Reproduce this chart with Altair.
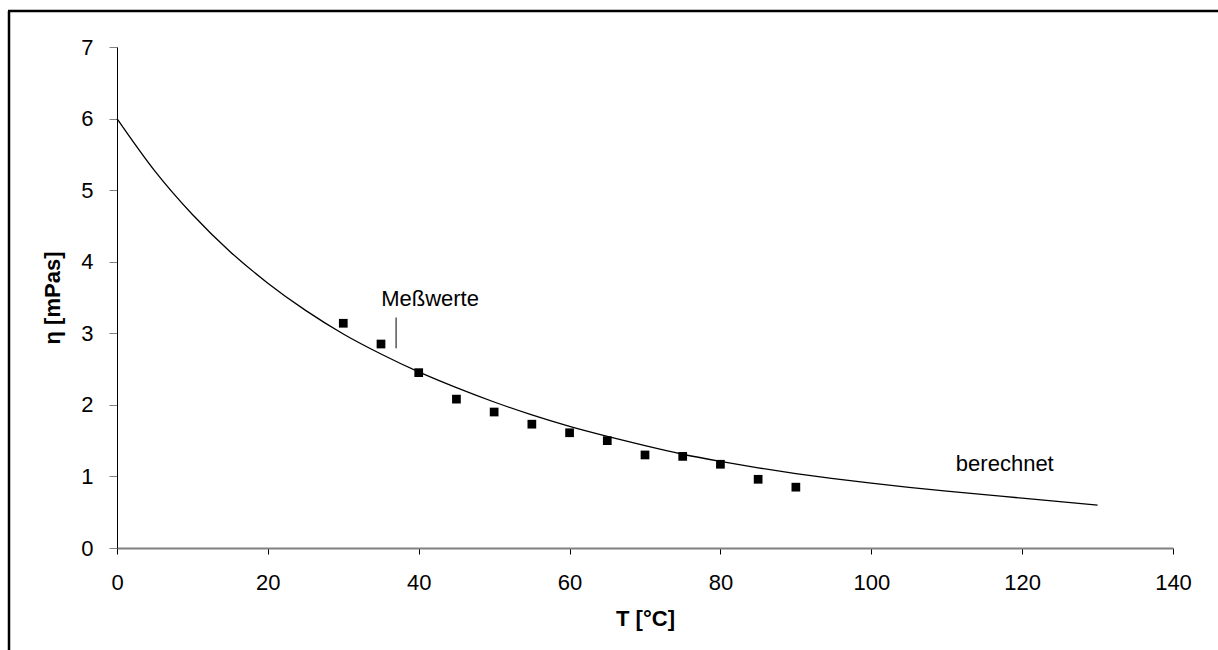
import altair as alt
import pandas as pd

# measured values (Meßwerte)
meas_T = [30, 35, 40, 45, 50, 55, 60, 65, 70, 75, 80, 85, 90]
meas_eta = [3.14, 2.85, 2.45, 2.08, 1.90, 1.73, 1.61, 1.50, 1.30, 1.28, 1.17, 0.96, 0.85]

# calculated curve (berechnet)
calc_T = [0, 5, 10, 15, 20, 25, 30, 35, 40, 45, 50, 55, 60, 65, 70, 75, 80, 85, 90,
          95, 100, 105, 110, 115, 120, 125, 130]
calc_eta = [6.00, 5.27, 4.66, 4.14, 3.70, 3.32, 2.99, 2.71, 2.46, 2.24, 2.04, 1.86,
            1.70, 1.56, 1.43, 1.31, 1.21, 1.12, 1.04, 0.97, 0.905, 0.848, 0.795,
            0.745, 0.697, 0.648, 0.60]

x_ticks = [0, 20, 40, 60, 80, 100, 120, 140]
y_ticks = [0, 1, 2, 3, 4, 5, 6, 7]

label_text = ["Meßwerte", "berechnet"]
label_T = [41.5, 117.7]
label_eta = [3.48, 1.17]

leader_T = [37.0]
leader_top = [3.22]
leader_bottom = [2.79]

FONT = "Liberation Sans"
FS = 22
W, H = 1056, 501

df_meas = pd.DataFrame({"T": meas_T, "eta": meas_eta})
df_calc = pd.DataFrame({"T": calc_T, "eta": calc_eta})
df_lab = pd.DataFrame({"T": label_T, "eta": label_eta, "text": label_text})
df_lead = pd.DataFrame({"T": leader_T, "y1": leader_top, "y2": leader_bottom})

xscale = alt.Scale(domain=[0, 140], nice=False, zero=False)
yscale = alt.Scale(domain=[0, 7], nice=False, zero=False)

xaxis = alt.Axis(values=x_ticks, format="d", title="T [°C]", grid=False,
                 domainColor="#808080", domainWidth=2, tickColor="#000000",
                 tickSize=6, labelPadding=18, labelFontSize=FS, labelFont=FONT,
                 labelColor="#000000", labelFlush=False,
                 titleFont=FONT, titleFontSize=FS, titleFontWeight="bold",
                 titleColor="#000000", titleY=70, titleBaseline="middle")
yaxis = alt.Axis(values=y_ticks, format="d", title="η [mPas]", grid=False,
                 domainColor="#000000", domainWidth=1, tickColor="#808080",
                 tickSize=8, labelPadding=16, labelFontSize=FS, labelFont=FONT,
                 labelColor="#000000", labelFlush=False,
                 titleFont=FONT, titleFontSize=FS, titleFontWeight="bold",
                 titleColor="#000000", titleX=-65, titleY=H / 2,
                 titleAngle=270, titleBaseline="middle", titleAlign="center")

line = alt.Chart(df_calc).mark_line(color="#000000", strokeWidth=1.3,
                                    interpolate="monotone").encode(
    x=alt.X("T:Q", scale=xscale, axis=xaxis),
    y=alt.Y("eta:Q", scale=yscale, axis=yaxis),
)

points = alt.Chart(df_meas).mark_square(color="#000000", size=76, opacity=1,
                                        filled=True).encode(
    x=alt.X("T:Q", scale=xscale),
    y=alt.Y("eta:Q", scale=yscale),
)

labels = alt.Chart(df_lab).mark_text(font=FONT, fontSize=FS, color="#000000",
                                     align="center", baseline="middle").encode(
    x=alt.X("T:Q", scale=xscale),
    y=alt.Y("eta:Q", scale=yscale),
    text="text:N",
)

leader = alt.Chart(df_lead).mark_rule(color="#000000", strokeWidth=1).encode(
    x=alt.X("T:Q", scale=xscale),
    y=alt.Y("y1:Q", scale=yscale),
    y2="y2:Q",
)

# outer frame (left and top edges visible)
frame_left = alt.Chart().mark_rule(color="#000000", strokeWidth=2.5).encode(
    x=alt.value(-108), y=alt.value(-36), y2=alt.value(H + 110))
frame_top = alt.Chart().mark_rule(color="#000000", strokeWidth=2.5).encode(
    x=alt.value(-109), x2=alt.value(W + 110), y=alt.value(-36))

chart = alt.layer(line, points, leader, labels, frame_left, frame_top).properties(
    width=W, height=H,
    autosize=alt.AutoSizeParams(type="none"),
    padding={"left": 117, "top": 47, "right": 45, "bottom": 102},
    background="#ffffff",
).configure_view(stroke=None)

chart.save("out.html", embed_options={"renderer": "svg", "actions": False})
